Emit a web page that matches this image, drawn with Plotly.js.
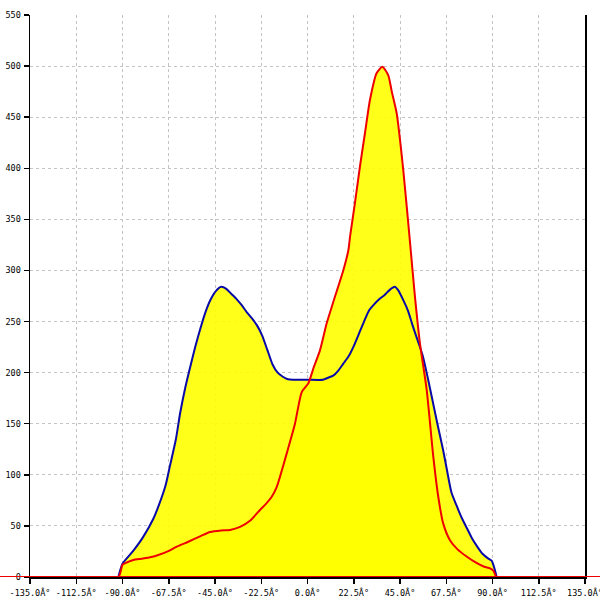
<!DOCTYPE html>
<html>
<head>
<meta charset="utf-8">
<script src="https://cdn.plot.ly/plotly-3.0.1.min.js"></script>
<style>html,body{margin:0;padding:0;background:#fff;}#chart{width:600px;height:600px;}</style>
</head>
<body>
<div id="chart"></div>
<script>
// Blue series: angle (deg) and value
var blueAngles = [-92,-90,-85,-80,-75,-72,-69,-67,-64,-62,-59.5,-57,-54.5,-52,-49.5,-47,-44.5,-42,-39.5,-37,-34.5,-32,-29.5,-27,-24.5,-22,-19.5,-17,-14.5,-12,-9.5,-7,0,7.5,10,12.5,15,17.5,20,22.5,25,27.5,30,32.5,35,37.5,40,42.5,44,46.6,49,51,53,56,58.5,61,63.5,66,68,70,72.5,75,77.5,80,82.5,85,88,89.6,91,92];
var blueValues = [0,13,25,39,57,72,90,108,135,160,185,206,226,244,260,272,280,284,282,277,272,266,259,253,246,236,222,208,200,196,193.5,193,193,193,195,197,202,209,216,226,238,250,261,267,272,276,281,284,281,271,260,247,235,217,195,171,147,124,103,83,70,58,48,38,30,23,18,16,8,0];

// Red series: angle (deg) and value
var redAngles = [-135,-92,-90,-87,-84.7,-80,-76,-72.6,-68,-63.6,-58,-52,-47.4,-42,-37.7,-32.8,-28,-23.1,-20,-17.4,-15,-13.4,-10.1,-6.1,-2.8,0.4,3,6.1,9.3,13,17.4,19.9,20.7,23,25.5,28,30.4,33.6,36.4,39.3,41,43.4,45,46.6,48.3,49.9,52,54.7,58,61.2,63.5,66,69.3,73,77.4,82,86,88.8,90.5,92,135];
var redValues = [0,0,12,15,16.6,18,19.5,21.5,25,29.7,34.5,40,44,45.5,46,49,55,65.6,72,78.6,88,98,121,150,181,189.5,205,222,248,272,300,320,333,365,401.5,435,467,493,499.3,491,475,453.7,428,398,362,327,280,228.7,183,117.7,80,52.5,36,27,20,14,10,8.5,6,0,0];

// Tick labels
var xTickVals = [-135,-112.5,-90,-67.5,-45,-22.5,0,22.5,45,67.5,90,112.5,135];
var xTickText = ["-135.0Â°","-112.5Â°","-90.0Â°","-67.5Â°","-45.0Â°","-22.5Â°","0.0Â°","22.5Â°","45.0Â°","67.5Â°","90.0Â°","112.5Â°","135.0Â°"];
var yTickVals = [0,50,100,150,200,250,300,350,400,450,500,550];
var yTickText = ["0","50","100","150","200","250","300","350","400","450","500","550"];

var fillColor = 'rgba(255,255,0,0.9)';
var blueColor = '#0a0aa8';
var redColor = '#ee0000';

var traces = [
  {x: blueAngles, y: blueValues, type: 'scatter', mode: 'lines', fill: 'tozeroy', fillcolor: fillColor, line: {width: 0, color: fillColor, shape: 'spline', smoothing: 0.6}, hoverinfo: 'skip', showlegend: false},
  {x: redAngles, y: redValues, type: 'scatter', mode: 'lines', fill: 'tozeroy', fillcolor: fillColor, line: {width: 0, color: fillColor, shape: 'spline', smoothing: 0.6}, hoverinfo: 'skip', showlegend: false},
  {x: blueAngles, y: blueValues, type: 'scatter', mode: 'lines', line: {width: 2, color: blueColor, shape: 'spline', smoothing: 0.6}, showlegend: false},
  {x: redAngles, y: redValues, type: 'scatter', mode: 'lines', line: {width: 2, color: redColor, shape: 'spline', smoothing: 0.6}, showlegend: false}
];

var tickFont = {family: 'DejaVu Sans Mono', size: 8.5, color: '#000'};
var layout = {
  width: 600, height: 600,
  margin: {l: 30, r: 15, t: 15, b: 23, pad: 0},
  paper_bgcolor: '#fff', plot_bgcolor: '#fff',
  showlegend: false,
  xaxis: {
    range: [-135, 135], tickmode: 'array', tickvals: xTickVals, ticktext: xTickText,
    showgrid: true, gridcolor: '#c4c4c4', griddash: '3px,3px', gridwidth: 1,
    zeroline: false, showline: true, linecolor: '#000', linewidth: 1.5, mirror: false,
    ticks: 'outside', ticklen: 5, tickcolor: '#000', tickwidth: 1.5,
    tickfont: tickFont, ticklabelstandoff: 2, ticklabeloverflow: 'allow', fixedrange: true
  },
  yaxis: {
    range: [0, 550], tickmode: 'array', tickvals: yTickVals, ticktext: yTickText,
    showgrid: true, gridcolor: '#c4c4c4', griddash: '3px,3px', gridwidth: 1,
    zeroline: false, showline: true, linecolor: '#000', linewidth: 1.5, mirror: true,
    ticks: 'outside', ticklen: 5, tickcolor: '#000', tickwidth: 1.5,
    tickfont: tickFont, ticklabelstandoff: 1, fixedrange: true
  },
  shapes: [
    {type: 'line', xref: 'paper', yref: 'y', x0: -0.06, x1: 1.03, y0: 0, y1: 0, line: {color: redColor, width: 2}, layer: 'above'}
  ]
};

Plotly.newPlot('chart', traces, layout, {displayModeBar: false, staticPlot: true});
</script>
</body>
</html>
